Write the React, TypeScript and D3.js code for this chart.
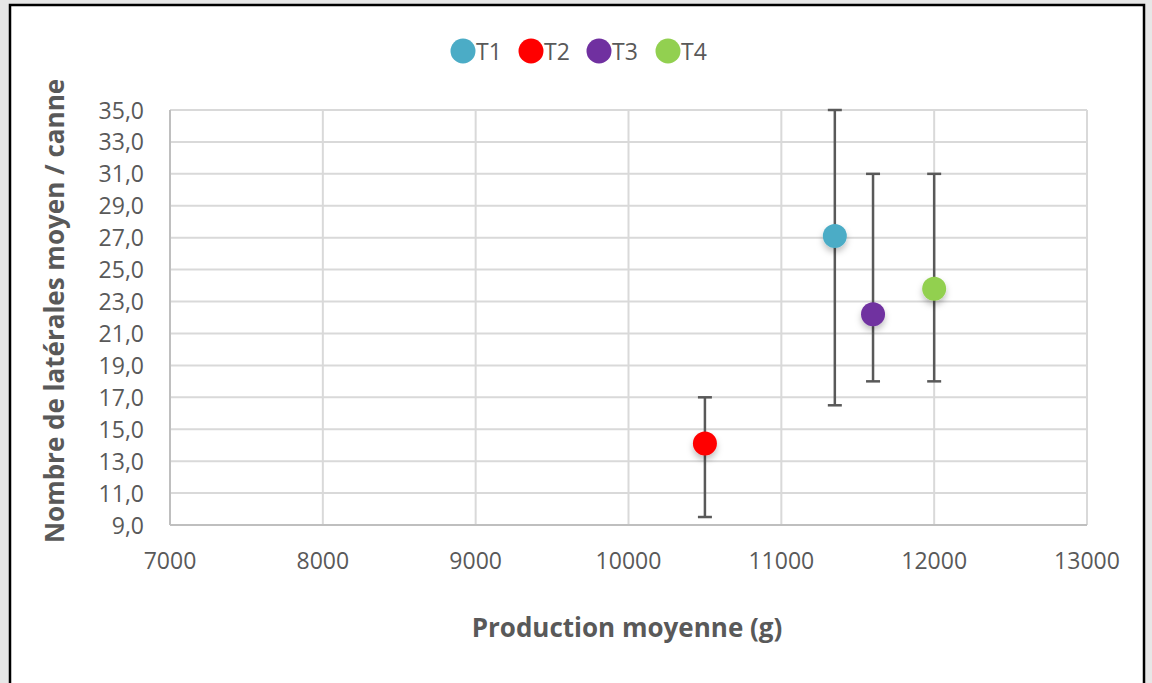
import React, { useEffect, useRef } from 'react';
import * as d3 from 'd3';

// data
const series = ['T1', 'T2', 'T3', 'T4'];
const production = [11350, 10500, 11600, 12000];
const lateralMean = [27.1, 14.1, 22.2, 23.8];
const errUpper = [35.0, 17.0, 31.0, 31.0];
const errLower = [16.5, 9.5, 18.0, 18.0];
const colors = ['#4BACC6', '#FF0000', '#7030A0', '#92D050'];
const xTicks = [7000, 8000, 9000, 10000, 11000, 12000, 13000];
const yTicks = [9, 11, 13, 15, 17, 19, 21, 23, 25, 27, 29, 31, 33, 35];

const App: React.FC = () => {
    const ref = useRef<SVGSVGElement>(null);

    useEffect(() => {
        const svg = d3.select(ref.current);
        svg.selectAll('*').remove();

        const W = 1152, H = 683;
        const font = '"Open Sans", "Noto Sans", sans-serif';
        const left = 170, right = 1087, top = 110, bottom = 525;

        svg.append('rect').attr('width', W).attr('height', H).attr('fill', '#e7e7e7');
        svg.append('rect')
            .attr('x', 10).attr('y', 5).attr('width', 1134).attr('height', 690)
            .attr('fill', '#fff').attr('stroke', '#000').attr('stroke-width', 2.5);

        const x = d3.scaleLinear().domain([7000, 13000]).range([left, right]);
        const y = d3.scaleLinear().domain([9, 35]).range([bottom, top]);

        // grid
        const g = svg.append('g');
        g.selectAll('.hg').data(yTicks).enter().append('line')
            .attr('x1', left).attr('x2', right)
            .attr('y1', d => y(d)).attr('y2', d => y(d))
            .attr('stroke', '#d9d9d9').attr('stroke-width', 2);
        g.selectAll('.vg').data(xTicks).enter().append('line')
            .attr('x1', d => x(d)).attr('x2', d => x(d))
            .attr('y1', top).attr('y2', bottom)
            .attr('stroke', '#d9d9d9').attr('stroke-width', 2);

        // axis lines
        g.append('line').attr('x1', left).attr('x2', left).attr('y1', top).attr('y2', bottom)
            .attr('stroke', '#bfbfbf').attr('stroke-width', 2);
        g.append('line').attr('x1', left).attr('x2', right).attr('y1', bottom).attr('y2', bottom)
            .attr('stroke', '#bfbfbf').attr('stroke-width', 2);

        // tick labels
        g.selectAll('.yl').data(yTicks).enter().append('text')
            .attr('x', 144).attr('y', d => y(d) + 8.5)
            .attr('text-anchor', 'end')
            .attr('font-family', font).attr('font-size', 23).attr('fill', '#595959')
            .text(d => d3.format('.1f')(d).replace('.', ','));
        g.selectAll('.xl').data(xTicks).enter().append('text')
            .attr('x', d => x(d)).attr('y', 569)
            .attr('text-anchor', 'middle')
            .attr('font-family', font).attr('font-size', 23).attr('fill', '#595959')
            .text(d => String(d));

        // axis titles
        svg.append('text')
            .attr('x', 627).attr('y', 637)
            .attr('text-anchor', 'middle')
            .attr('font-family', font).attr('font-size', 26).attr('font-weight', 'bold')
            .attr('fill', '#595959')
            .text('Production moyenne (g)');
        svg.append('text')
            .attr('transform', 'translate(64,311) rotate(-90)')
            .attr('text-anchor', 'middle')
            .attr('font-family', font).attr('font-size', 26).attr('font-weight', 'bold')
            .attr('fill', '#595959')
            .text('Nombre de latérales moyen / canne');

        // shadow
        const defs = svg.append('defs');
        const f = defs.append('filter').attr('id', 'sh').attr('x', '-50%').attr('y', '-50%')
            .attr('width', '200%').attr('height', '200%');
        f.append('feDropShadow').attr('dx', 0).attr('dy', 4).attr('stdDeviation', 3)
            .attr('flood-color', '#000').attr('flood-opacity', 0.25);

        // error bars
        const idx = d3.range(series.length);
        const eb = svg.append('g').attr('stroke', '#595959').attr('stroke-width', 2.5);
        idx.forEach(i => {
            const cx = x(production[i]);
            eb.append('line').attr('x1', cx).attr('x2', cx)
                .attr('y1', y(errUpper[i])).attr('y2', y(errLower[i]));
            [errUpper[i], errLower[i]].forEach(v => {
                eb.append('line').attr('x1', cx - 7).attr('x2', cx + 7)
                    .attr('y1', y(v)).attr('y2', y(v));
            });
        });

        // points
        svg.append('g').selectAll('circle').data(idx).enter().append('circle')
            .attr('cx', i => x(production[i])).attr('cy', i => y(lateralMean[i]))
            .attr('r', 12)
            .attr('fill', i => colors[i])
            .attr('filter', 'url(#sh)');

        // legend
        const legX = [463, 531, 599, 668];
        const lg = svg.append('g');
        idx.forEach(i => {
            lg.append('circle').attr('cx', legX[i]).attr('cy', 51).attr('r', 12.5).attr('fill', colors[i]);
            lg.append('text').attr('x', legX[i] + 13).attr('y', 60)
                .attr('font-family', font).attr('font-size', 23).attr('fill', '#595959')
                .text(series[i]);
        });
    }, []);

    return (
        <div style={{ position: 'absolute', left: 0, top: 0 }}>
            <svg ref={ref} width={1152} height={683} style={{ display: 'block' }} />
        </div>
    );
};

export default App;
